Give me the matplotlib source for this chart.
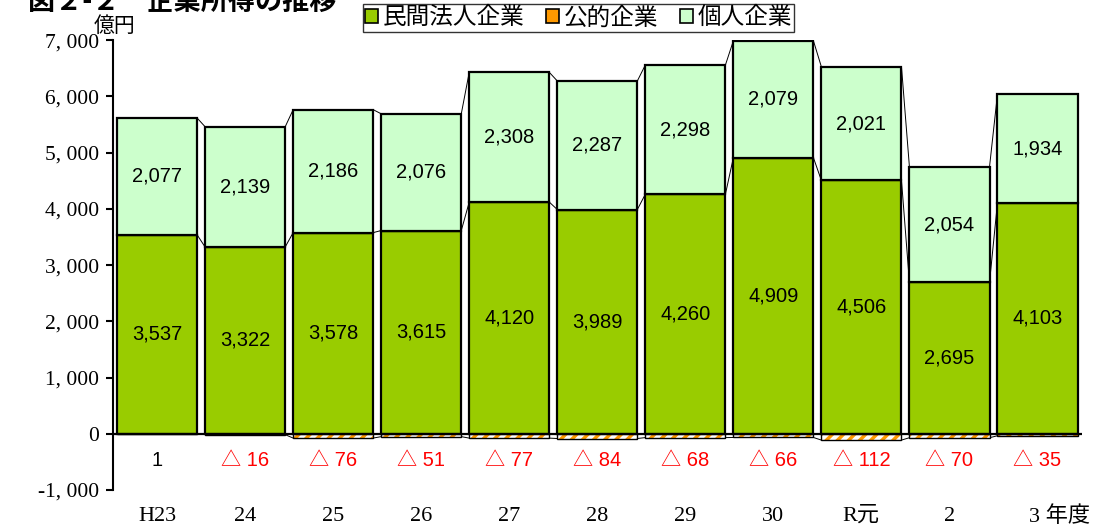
import matplotlib
matplotlib.use("Agg")
import matplotlib.pyplot as plt
import matplotlib.transforms as mtransforms
from matplotlib.patches import Patch
import numpy as np

plt.rcParams['font.family'] = ['Noto Sans CJK JP', 'DejaVu Sans']
plt.rcParams['hatch.linewidth'] = 2.5

years = ['H23', '24', '25', '26', '27', '28', '29', '30', 'R元', '2', '3 年度']
private = [3537, 3322, 3578, 3615, 4120, 3989, 4260, 4909, 4506, 2695, 4103]
public = [1, -16, -76, -51, -77, -84, -68, -66, -112, -70, -35]
personal = [2077, 2139, 2186, 2076, 2308, 2287, 2298, 2079, 2021, 2054, 1934]

serif = ['Liberation Serif', 'Noto Sans CJK JP']
label_font = 'Liberation Sans'

fig = plt.figure(figsize=(10.98, 5.29), dpi=100)
ax = fig.add_axes([0.103, 0.0737, 0.882, 0.8503])

x = np.arange(len(years))
w = 0.91
priv = np.array(private)
pub = np.array(public)
pers = np.array(personal)

pub_pos = np.where(pub > 0, pub, 0)
pub_neg = np.where(pub < 0, pub, 0)
pers_bottom = priv + pub_pos
total = pers_bottom + pers

ax.bar(x, priv, w, color='#99CC00', edgecolor='black', linewidth=1.6, zorder=3)
# public: orange hatch first, then black outline on top
ax.bar(x, pub_neg, w, color='white', edgecolor='#FF9900', linewidth=0,
       hatch='///', zorder=3)
ax.bar(x, pub_neg, w, color='none', edgecolor='black', linewidth=1.0, zorder=3)
ax.bar(x, pub_pos, w, bottom=priv, color='#FF9900', edgecolor='black',
       linewidth=1.6, zorder=3)
ax.bar(x, pers, w, bottom=pers_bottom, color='#CCFFCC', edgecolor='black',
       linewidth=1.6, zorder=3)

# series lines between neighbouring bars
for i in range(len(x) - 1):
    xa = x[i] + w / 2
    xb = x[i + 1] - w / 2
    ax.plot([xa, xb], [priv[i], priv[i + 1]], color='black', lw=0.7, zorder=2)
    ax.plot([xa, xb], [total[i], total[i + 1]], color='black', lw=0.7, zorder=2)
    if pub[i] < 0 and pub[i + 1] < 0:
        ax.plot([xa, xb], [pub[i], pub[i + 1]], color='black', lw=0.7, zorder=2)

ax.axhline(0, color='black', lw=1.6, zorder=4)

# value labels
for i in range(len(x)):
    ax.text(x[i], priv[i] / 2, f'{priv[i]:,}', ha='center', va='center',
            fontsize=14.5, family=label_font, zorder=5)
    ax.text(x[i], pers_bottom[i] + pers[i] / 2, f'{pers[i]:,}', ha='center',
            va='center', fontsize=14.5, family=label_font, zorder=5)
    if pub[i] < 0:
        ax.text(x[i], -480, f'△ {-pub[i]}', ha='center', va='center',
                fontsize=14.5, color='red', family=['Liberation Sans', 'Noto Sans CJK JP'])
    else:
        ax.text(x[i], -480, f'{pub[i]}', ha='center', va='center',
                fontsize=14.5, color='black', family=label_font)

ax.set_xlim(-0.5, len(x) - 0.5)
ax.set_ylim(-1000, 7000)
ax.set_yticks(range(-1000, 7001, 1000))
ax.set_yticklabels([f'{v:,}'.replace(',', ', ') for v in range(-1000, 7001, 1000)],
                   family=serif, fontsize=15.5)
ax.set_xticks(x)
ax.set_xticklabels(years, family=serif, fontsize=16)
ax.tick_params(axis='x', length=0, pad=12)
ax.tick_params(axis='y', direction='out', length=5, width=1.5, pad=5)
last = ax.get_xticklabels()[-1]
last.set_horizontalalignment('left')
last.set_transform(last.get_transform() + mtransforms.ScaledTranslation(-0.09, 0, fig.dpi_scale_trans))

for s in ['top', 'right', 'bottom']:
    ax.spines[s].set_visible(False)
ax.spines['left'].set_linewidth(1.5)

fig.text(115 / 1098, 1 - 27 / 529, '億円', ha='center', va='center',
         fontsize=15, family=serif)
fig.text(28 / 1098, 1 - 10 / 529, '図２-２　企業所得の推移', ha='left', va='baseline',
         fontsize=19.5, fontweight='bold')

handles = [Patch(facecolor='#99CC00', edgecolor='black', linewidth=1.2),
           Patch(facecolor='#FF9900', edgecolor='black', linewidth=1.2),
           Patch(facecolor='#CCFFCC', edgecolor='black', linewidth=1.2)]
leg = fig.legend(handles, ['民間法人企業', '公的企業', '個人企業'],
                 loc='upper left', bbox_to_anchor=(363 / 1098, 1 - 4 / 529),
                 ncol=3, fontsize=17, frameon=True, fancybox=False,
                 edgecolor='black', handlelength=0.55, handleheight=0.55,
                 handletextpad=0.2, columnspacing=0.9, borderpad=0.1,
                 borderaxespad=0)
leg.get_frame().set_linewidth(1.0)

fig.savefig('out.png', dpi=100)
